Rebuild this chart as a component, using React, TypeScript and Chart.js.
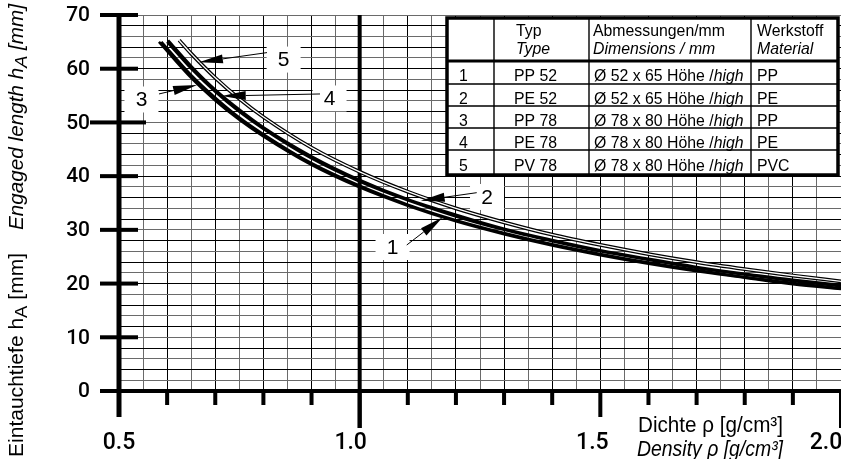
import React, { useEffect, useRef } from 'react';
import { Chart, registerables } from 'chart.js';

Chart.register(...registerables);

// ---------------- data ----------------
const seriesIds = ['1', '2', '3', '4', '5'];
const typeCodes = ['PP 52', 'PE 52', 'PP 78', 'PE 78', 'PV 78'];
const dimensionTexts = ['Ø 52 x 65', 'Ø 52 x 65', 'Ø 78 x 80', 'Ø 78 x 80', 'Ø 78 x 80'];
const materials = ['PP', 'PE', 'PP', 'PE', 'PVC'];

// density ρ [g/cm³] and engaged length h_A [mm] per float
const density1 = [0.588, 0.65, 0.7, 0.75, 0.8, 0.9, 1.0, 1.1, 1.2, 1.3, 1.4, 1.5, 1.6, 1.7, 1.8, 1.9, 2.0];
const depth1 = [65.0, 58.8, 54.6, 50.9, 47.8, 42.4, 38.2, 34.7, 31.8, 29.4, 27.3, 25.5, 23.9, 22.5, 21.2, 20.1, 19.1];

const density2 = [0.6, 0.65, 0.7, 0.75, 0.8, 0.9, 1.0, 1.1, 1.2, 1.3, 1.4, 1.5, 1.6, 1.7, 1.8, 1.9, 2.0];
const depth2 = [65.0, 60.0, 55.7, 52.0, 48.8, 43.3, 39.0, 35.5, 32.5, 30.0, 27.9, 26.0, 24.4, 22.9, 21.7, 20.5, 19.5];

const density3 = [0.583, 0.65, 0.7, 0.75, 0.8, 0.9, 1.0, 1.1, 1.2, 1.3, 1.4, 1.5, 1.6, 1.7, 1.8, 1.9, 2.0];
const depth3 = [65.0, 58.3, 54.1, 50.5, 47.4, 42.1, 37.9, 34.5, 31.6, 29.2, 27.1, 25.3, 23.7, 22.3, 21.1, 19.9, 19.0];

const density4 = [0.602, 0.65, 0.7, 0.75, 0.8, 0.9, 1.0, 1.1, 1.2, 1.3, 1.4, 1.5, 1.6, 1.7, 1.8, 1.9, 2.0];
const depth4 = [65.3, 60.5, 56.1, 52.4, 49.1, 43.7, 39.3, 35.7, 32.8, 30.2, 28.1, 26.2, 24.6, 23.1, 21.8, 20.7, 19.7];

const density5 = [0.625, 0.65, 0.7, 0.75, 0.8, 0.9, 1.0, 1.1, 1.2, 1.3, 1.4, 1.5, 1.6, 1.7, 1.8, 1.9, 2.0];
const depth5 = [65.3, 62.8, 58.3, 54.4, 51.0, 45.3, 40.8, 37.1, 34.0, 31.4, 29.1, 27.2, 25.5, 24.0, 22.7, 21.5, 20.4];

const xTickValues = [0.5, 1.0, 1.5, 2.0];
const xTickLabels = ['0.5', '1.0', '1.5', '2.0'];
const yTickValues = [0, 10, 20, 30, 40, 50, 60, 70];
const yTickLabels = ['0', '10', '20', '30', '40', '50', '60', '70'];

// ---------------- text helpers ----------------
const FONT = '"Liberation Sans Narrow", "Liberation Sans", Arial, sans-serif';
const PLAIN = '"Liberation Sans", Arial, sans-serif';
const TICK_FONT = 'Roboto, "Liberation Sans", Arial, sans-serif';

type Seg = { t: string; i?: boolean; sub?: boolean };

function setFont(ctx: CanvasRenderingContext2D, size: number, italic: boolean, family = FONT, weight = 400) {
  ctx.font = `${italic ? 'italic ' : ''}${weight} ${size}px ${family}`;
}
function segsWidth(ctx: CanvasRenderingContext2D, segs: Seg[], size: number, family = FONT) {
  let w = 0;
  for (const s of segs) {
    setFont(ctx, s.sub ? size * 0.88 : size, !!s.i, family);
    w += ctx.measureText(s.t).width;
  }
  return w;
}
function drawSegs(ctx: CanvasRenderingContext2D, segs: Seg[], x: number, y: number, size: number, sx: number, family = FONT) {
  ctx.save();
  ctx.translate(x, y);
  ctx.scale(sx, 1);
  ctx.textAlign = 'left';
  ctx.textBaseline = 'alphabetic';
  ctx.fillStyle = '#000';
  let px = 0;
  for (const s of segs) {
    const sz = s.sub ? size * 0.88 : size;
    setFont(ctx, sz, !!s.i, family);
    ctx.fillText(s.t, px, s.sub ? size * 0.22 : 0);
    px += ctx.measureText(s.t).width;
  }
  ctx.restore();
}

const decorPlugin = {
  id: 'decor',
  beforeDatasetsDraw(chart: any) {
    const ctx: CanvasRenderingContext2D = chart.ctx;
    const xs = chart.scales.x;
    const ys = chart.scales.y;
    const yBase = ys.getPixelForValue(0);
    const yTop = ys.getPixelForValue(70);
    const x0 = xs.getPixelForValue(0.5);
    ctx.save();
    ctx.fillStyle = '#000';
    // heavy line at 1.0
    const x1 = xs.getPixelForValue(1.0);
    ctx.fillRect(x1 - 2, yTop, 4, yBase + 37 - yTop);
    // x axis ticks every 0.1
    for (let k = 6; k <= 20; k++) {
      const v = k / 10;
      const px = xs.getPixelForValue(v);
      let len = 14;
      if (k === 15) len = 26;
      if (k === 10 || k === 20) len = 37;
      ctx.fillRect(px - 2, yBase, 4, len);
    }
    // y axis (extends down as 0.5 tick)
    ctx.fillRect(x0 - 2.5, yTop, 5, yBase + 26 - yTop);
    // x axis
    ctx.fillRect(100, yBase - 2, chart.width - 100, 4);
    // y ticks crossing the axis
    for (const v of yTickValues) {
      if (v === 0) continue;
      const py = ys.getPixelForValue(v);
      const left = v === 50 ? 90 : 100;
      const right = v === 50 ? 146 : 138;
      ctx.fillRect(left, py - 2, right - left, 4);
    }
    ctx.restore();
  },
  afterDatasetsDraw(chart: any) {
    const ctx: CanvasRenderingContext2D = chart.ctx;
    const xs = chart.scales.x;
    const ys = chart.scales.y;
    const P = (d: number, h: number) => [xs.getPixelForValue(d), ys.getPixelForValue(h)];
    ctx.save();

    // ---------- table ----------
    const L = 447, R = 838, TOP = 18, BOT = 175, HEAD = 61;
    const rowLines = [84, 106, 128, 150];
    const colLines = [494, 589, 751];
    ctx.fillStyle = '#fff';
    ctx.fillRect(L, TOP, R - L, BOT - TOP);
    ctx.strokeStyle = '#000';
    ctx.lineWidth = 1.4;
    ctx.beginPath();
    for (const c of colLines) { ctx.moveTo(c, TOP); ctx.lineTo(c, BOT); }
    for (const r of rowLines) { ctx.moveTo(L, r); ctx.lineTo(R, r); }
    ctx.stroke();
    ctx.lineWidth = 3;
    ctx.beginPath();
    ctx.moveTo(L, HEAD); ctx.lineTo(R, HEAD);
    ctx.stroke();
    ctx.lineWidth = 3.5;
    ctx.strokeRect(L, TOP, R - L, BOT - TOP);

    const TS = 17;
    const sx = 132 / segsWidth(ctx, [{ t: 'Abmessungen/mm' }], TS);
    drawSegs(ctx, [{ t: 'Typ' }], 516, 35.5, TS, sx);
    drawSegs(ctx, [{ t: 'Type', i: true }], 516, 54, TS, sx);
    drawSegs(ctx, [{ t: 'Abmessungen/mm' }], 593, 35.5, TS, sx);
    drawSegs(ctx, [{ t: 'Dimensions / mm', i: true }], 593, 54, TS, sx);
    drawSegs(ctx, [{ t: 'Werkstoff' }], 757, 35.5, TS, sx);
    drawSegs(ctx, [{ t: 'Material', i: true }], 757, 54, TS, sx);
    const rowBase = [81, 103.5, 126, 148, 170.5];
    seriesIds.forEach((id, i) => {
      const y = rowBase[i];
      drawSegs(ctx, [{ t: id }], 459, y, TS, sx);
      drawSegs(ctx, [{ t: typeCodes[i] }], 514, y, TS, sx);
      drawSegs(ctx, [{ t: dimensionTexts[i] + ' Höhe /' }, { t: 'high', i: true }], 594, y, TS, sx);
      drawSegs(ctx, [{ t: materials[i] }], 757, y, TS, sx);
    });

    // ---------- curve call-outs ----------
    const callouts = [
      { id: '5', label: [0.842, 61.7], start: [0.8075, 63.0], tip: [0.666, 61.2] },
      { id: '3', label: [0.5467, 54.27], start: [0.5831, 55.3], tip: [0.6621, 56.97] },
      { id: '4', label: [0.9374, 54.46], start: [0.9176, 55.3], tip: [0.7134, 54.92] },
      { id: '2', label: [1.2646, 36.12], start: [1.2432, 36.92], tip: [1.1268, 35.43] },
      { id: '1', label: [1.0683, 26.81], start: [1.0978, 27.18], tip: [1.1726, 32.34] },
    ];
    for (const c of callouts) {
      const [lx, ly] = P(c.label[0], c.label[1]);
      ctx.fillStyle = '#fff';
      ctx.fillRect(lx - 17, ly - 13, 34, 26);
    }
    for (const c of callouts) {
      const [lx, ly] = P(c.label[0], c.label[1]);
      const [sx0, sy0] = P(c.start[0], c.start[1]);
      const [tx, ty] = P(c.tip[0], c.tip[1]);
      const dx = tx - sx0, dy = ty - sy0;
      const len = Math.hypot(dx, dy);
      const ux = dx / len, uy = dy / len;
      const head = 24, hw = 4.5;
      const bx = tx - ux * head, by = ty - uy * head;
      ctx.strokeStyle = '#000';
      ctx.lineWidth = 1;
      ctx.beginPath();
      ctx.moveTo(sx0, sy0);
      ctx.lineTo(bx, by);
      ctx.stroke();
      ctx.fillStyle = '#000';
      ctx.beginPath();
      ctx.moveTo(tx, ty);
      ctx.lineTo(bx - uy * hw, by + ux * hw);
      ctx.lineTo(bx + uy * hw, by - ux * hw);
      ctx.closePath();
      ctx.fill();
      setFont(ctx, 21, false, PLAIN);
      ctx.textAlign = 'center';
      ctx.textBaseline = 'middle';
      ctx.fillText(c.id, lx, ly + 1);
    }

    // ---------- tick labels ----------
    ctx.fillStyle = '#000';
    setFont(ctx, 21, false, TICK_FONT, 500);
    ctx.textAlign = 'right';
    ctx.textBaseline = 'middle';
    yTickValues.forEach((v, i) => {
      const py = ys.getPixelForValue(v);
      ctx.fillText(yTickLabels[i], 90, py + 1);
    });
    setFont(ctx, 23, false, TICK_FONT, 500);
    ctx.textAlign = 'center';
    const xOffsets = [0, -9, -8, -15];
    xTickValues.forEach((v, i) => {
      const px = xs.getPixelForValue(v);
      ctx.fillText(xTickLabels[i], px + xOffsets[i], 443);
    });

    // ---------- axis titles ----------
    const xt1: Seg[] = [{ t: 'Dichte ρ [g/cm³]' }];
    const xt2: Seg[] = [{ t: 'Density ρ [g/cm³]', i: true }];
    drawSegs(ctx, xt1, 638, 432, 22.5, 145 / segsWidth(ctx, xt1, 22.5));
    drawSegs(ctx, xt2, 637, 456, 22.5, 146 / segsWidth(ctx, xt2, 22.5));

    const yt1: Seg[] = [{ t: 'Eintauchtiefe h' }, { t: 'A', sub: true }, { t: ' [mm]' }];
    const yt2: Seg[] = [{ t: 'Engaged length h', i: true }, { t: 'A', i: true, sub: true }, { t: ' [mm]', i: true }];
    ctx.save();
    ctx.translate(22.5, 457);
    ctx.rotate(-Math.PI / 2);
    drawSegs(ctx, yt1, 0, 0, 19.5, 204 / segsWidth(ctx, yt1, 19.5));
    ctx.restore();
    ctx.save();
    ctx.translate(22.5, 230);
    ctx.rotate(-Math.PI / 2);
    drawSegs(ctx, yt2, 0, 0, 19.5, 226 / segsWidth(ctx, yt2, 19.5));
    ctx.restore();

    ctx.restore();
  },
};

export default function App() {
  const ref = useRef<HTMLCanvasElement | null>(null);
  useEffect(() => {
    document.body.style.margin = '0';
    const canvas = ref.current;
    if (!canvas) return;
    const series = [
      { d: density1, h: depth1 },
      { d: density2, h: depth2 },
      { d: density3, h: depth3 },
      { d: density4, h: depth4 },
      { d: density5, h: depth5 },
    ];
    const pts = (s: { d: number[]; h: number[] }) => s.d.map((x, i) => ({ x, y: s.h[i] }));
    const datasets: any[] = [];
    series.forEach((s, i) => {
      const base = {
        label: seriesIds[i],
        data: pts(s),
        pointRadius: 0,
        fill: false,
        cubicInterpolationMode: 'monotone',
        borderCapStyle: 'butt',
      };
      if (i < 4) {
        datasets.push({ ...base, borderColor: '#000', borderWidth: 2.6, order: 2 });
      } else {
        datasets.push({ ...base, borderColor: '#000', borderWidth: 3.8, order: 1 });
        datasets.push({ ...base, borderColor: '#fff', borderWidth: 1.3, order: 0 });
      }
    });
    const chart = new Chart(canvas, {
      type: 'line',
      data: { datasets },
      options: {
        responsive: false,
        animation: false,
        events: [],
        layout: { padding: { left: 119, top: 15, right: 0, bottom: 68 } },
        plugins: { legend: { display: false }, tooltip: { enabled: false }, title: { display: false } },
        scales: {
          x: {
            type: 'linear',
            min: 0.5,
            max: 2.0,
            border: { display: false },
            ticks: { display: false, stepSize: 0.05 },
            grid: {
              drawTicks: false,
              lineWidth: 1,
              color: (c: any) => (Math.round(c.tick.value * 100) % 10 === 0 ? '#000' : '#6a6a6a'),
            },
          },
          y: {
            type: 'linear',
            min: 0,
            max: 70,
            border: { display: false },
            ticks: { display: false, stepSize: 2 },
            grid: {
              drawTicks: false,
              lineWidth: 1,
              color: (c: any) => (Math.round(c.tick.value) % 4 === 0 ? '#000' : '#6a6a6a'),
            },
          },
        },
      } as any,
      plugins: [decorPlugin as any],
    });
    return () => chart.destroy();
  }, []);
  return <canvas ref={ref} width={841} height={459} style={{ display: 'block' }} />;
}
